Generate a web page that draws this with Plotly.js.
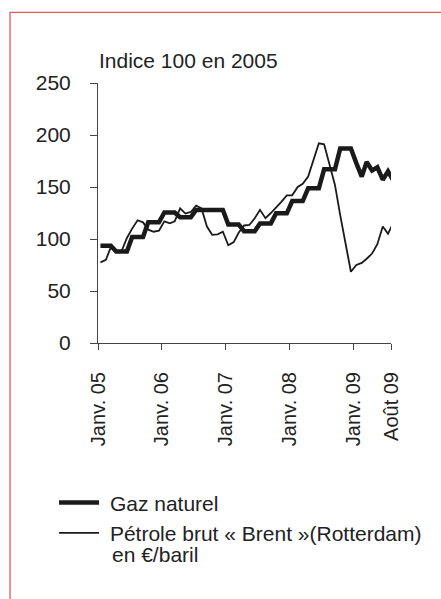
<!DOCTYPE html>
<html><head><meta charset="utf-8">
<script src="https://cdn.plot.ly/plotly-3.0.1.min.js"></script>
<style>html,body{margin:0;padding:0;background:#fff;}#chart{width:441px;height:599px;}</style>
</head><body><div id="chart"></div>
<script>
// Monthly values, Jan 2005 .. Aug 2009 (index 100 in 2005)
const gazNaturel = [
  93.5, 93.5, 93.5, 88, 88, 88, 102, 102, 102, 116, 116, 116,
  125.5, 125.5, 125.5, 121, 121, 121, 128, 128, 128, 128, 128, 128,
  114, 114, 114, 107.5, 107.5, 107.5, 115, 115, 115, 124.7, 124.7, 124.7,
  136.5, 136.5, 136.5, 148.7, 148.7, 148.7, 167, 167, 167, 187, 187, 187,
  173, 160, 174, 166, 169, 157, 165, 156
];
const petroleBrent = [
  77.5, 80, 92, 89, 88, 101, 110, 118, 116, 109, 107, 108,
  117, 115, 117, 129.5, 124.5, 126, 132, 129.5, 112, 104, 104.5, 107,
  94, 97, 106, 113, 113.5, 120, 128, 120, 125, 130, 136, 142,
  142, 150, 153, 160, 177, 192, 191, 171, 152, 123, 95, 68.5,
  75, 77, 81, 86, 95, 112, 105, 116
];
const monthCount = gazNaturel.length;
const months = [];
for (let i = 0; i < monthCount; i++) {
  const y = 2005 + Math.floor(i / 12), m = (i % 12) + 1;
  months.push(y + '-' + String(m).padStart(2, '0') + '-15');
}
const tickDates = ['2005-01-01', '2006-01-01', '2007-01-01', '2008-01-01', '2009-01-01', '2009-08-01'];
const tickLabels = ['Janv. 05', 'Janv. 06', 'Janv. 07', 'Janv. 08', 'Janv. 09', 'Août 09'];
const yTicks = [0, 50, 100, 150, 200, 250];
const seriesNames = ['Gaz naturel', 'Pétrole brut « Brent »(Rotterdam)'];
const unitLine = 'en €/baril';

const FONT = 'Liberation Sans, Arial, sans-serif';
const ink = '#1a1a1a';
const txt = '#222';
const NB = '\u00a0';

const traces = [
  {x: months, y: gazNaturel, name: NB + seriesNames[0], type: 'scatter', mode: 'lines',
   line: {color: ink, width: 4.5}, legendgroup: 'g1', cliponaxis: false},
  {x: months, y: petroleBrent, name: NB + seriesNames[1], type: 'scatter', mode: 'lines',
   line: {color: ink, width: 1.8}, legendgroup: 'g2', cliponaxis: false}
];

const layout = {
  width: 441, height: 599, autosize: false,
  margin: {l: 98, r: 50, t: 83, b: 256, pad: 0},
  paper_bgcolor: '#fff', plot_bgcolor: 'rgba(0,0,0,0)',
  font: {family: FONT, size: 21, color: txt},
  showlegend: true,
  legend: {x: -0.15, y: -0.536, xanchor: 'left', yanchor: 'top', bgcolor: 'rgba(0,0,0,0)',
           font: {family: FONT, size: 21, color: txt}, tracegroupgap: 10, itemwidth: 40,
           traceorder: 'normal'},
  xaxis: {
    type: 'date', range: ['2005-01-01', '2009-08-01'],
    tickmode: 'array', tickvals: tickDates, ticktext: tickLabels, tickangle: -90,
    showgrid: false, zeroline: false, showline: true, linecolor: '#444', linewidth: 1,
    ticks: 'outside', ticklen: 6, tickcolor: '#444', tickwidth: 1, ticklabelstandoff: 14,
    tickfont: {family: FONT, size: 20, color: txt}, fixedrange: true
  },
  yaxis: {
    range: [0, 250], tickmode: 'array', tickvals: yTicks,
    showgrid: false, zeroline: false, showline: true, linecolor: '#444', linewidth: 1,
    ticks: 'outside', ticklen: 7, tickcolor: '#444', tickwidth: 1, ticklabelstandoff: 15,
    tickfont: {family: FONT, size: 21, color: txt}, fixedrange: true
  },
  annotations: [
    {text: 'Indice 100 en 2005', xref: 'paper', yref: 'paper', x: -0.004, y: 1.0865,
     xanchor: 'left', yanchor: 'middle', showarrow: false, font: {family: FONT, size: 21, color: txt}},
    {text: unitLine, xref: 'paper', yref: 'paper', x: 0.041, y: -0.815,
     xanchor: 'left', yanchor: 'middle', showarrow: false, font: {family: FONT, size: 21, color: txt}}
  ],
  shapes: [
    {type: 'rect', xref: 'paper', yref: 'paper', x0: -0.3003, x1: 1.6, y0: -1.6, y1: 1.272,
     line: {color: '#dd5a5a', width: 1.3}, fillcolor: 'rgba(0,0,0,0)', layer: 'below'}
  ]
};

Plotly.newPlot('chart', traces, layout, {displayModeBar: false, staticPlot: true});
</script>
</body></html>
